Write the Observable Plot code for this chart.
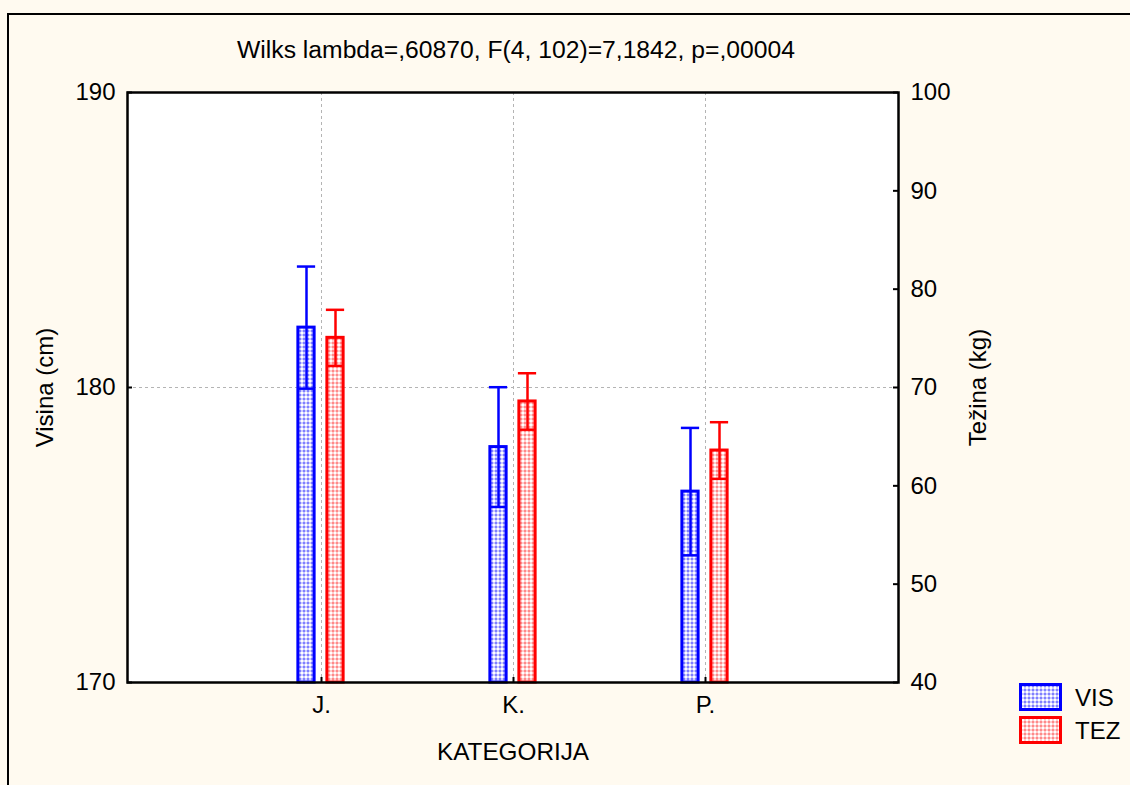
<!DOCTYPE html>
<html><head><meta charset="utf-8">
<script src="https://cdn.jsdelivr.net/npm/d3@7"></script>
<script src="https://cdn.jsdelivr.net/npm/@observablehq/plot@0.6"></script>
<style>
html,body{margin:0;padding:0;background:#fffaf0;overflow:hidden;width:1130px;height:785px}
#wrap{position:relative;width:1130px;height:785px;font-family:"Liberation Sans",Arial,sans-serif}
#border{position:absolute;left:7px;top:13px;width:3000px;height:3000px;border-left:2px solid #000;border-top:2px solid #000;box-sizing:border-box}
#chart{position:absolute;left:0;top:0}
#legend{position:absolute;left:1010px;top:675px}
</style></head>
<body><div id="wrap"><div id="border"></div><div id="chart"></div><div id="legend"></div></div>
<script>
const categories = ["J.", "K.", "P."];
const visMean = [182.03, 177.98, 176.47];
const visErr  = [2.07, 2.03, 2.16];
const tezMean = [75.05, 68.58, 63.59];
const tezErr  = [2.85, 2.87, 2.88];
const leftTicks = [170, 180, 190];
const rightTicks = [40, 50, 60, 70, 80, 90, 100];
const cmDomain = [170, 190];
const kgDomain = [40, 100];
const seriesNames = ["VIS", "TEZ"];
const title = "Wilks lambda=,60870, F(4, 102)=7,1842, p=,00004";
const xLabel = "KATEGORIJA";
const yLeftLabel = "Visina (cm)";
const yRightLabel = "Težina (kg)";

const kgRatio = (cmDomain[1] - cmDomain[0]) / (kgDomain[1] - kgDomain[0]);
const kg2cm = k => cmDomain[0] + (k - kgDomain[0]) * kgRatio;
const cm2kg = c => kgDomain[0] + (c - cmDomain[0]) / kgRatio;

const vis = categories.map((c, i) => ({cat: c, mean: visMean[i], lo: visMean[i] - visErr[i], hi: visMean[i] + visErr[i]}));
const tez = categories.map((c, i) => ({cat: c, mean: kg2cm(tezMean[i]), lo: kg2cm(tezMean[i] - tezErr[i]), hi: kg2cm(tezMean[i] + tezErr[i])}));

const W = 1130, H = 785, mL = 127, mR = 232, mT = 92, mB = 103;
const pw = W - mL - mR, ph = H - mT - mB;
const bw = pw / 4;              // band width (paddingOuter 0.5)
const barW = 17, capW = 19;
const barIns = (bw - barW) / 2, capIns = (bw - capW) / 2;
const BLUE = "#0000ff", RED = "#ff0000";
const font = "'Liberation Sans', Arial, sans-serif";

function seriesMarks(data, color, pat, dx) {
  return [
    Plot.barY(data, {x: "cat", y1: cmDomain[0], y2: "mean", dx, insetLeft: barIns, insetRight: barIns, fill: `url(#${pat})`, stroke: color, strokeWidth: 3}),
    Plot.ruleX(data, {x: "cat", y1: "lo", y2: "hi", dx, stroke: color, strokeWidth: 2.5}),
    Plot.tickY(data, {x: "cat", y: "hi", dx, insetLeft: capIns, insetRight: capIns, stroke: color, strokeWidth: 2.5}),
    Plot.tickY(data, {x: "cat", y: "lo", dx, insetLeft: barIns, insetRight: barIns, stroke: color, strokeWidth: 2.5})
  ];
}

const grid = {stroke: "#b4b4b4", strokeOpacity: 1, strokeWidth: 1, strokeDasharray: "3,3"};

const chart = Plot.plot({
  width: W, height: H,
  marginLeft: mL, marginRight: mR, marginTop: mT, marginBottom: mB,
  style: {background: "transparent", fontFamily: font, color: "#000", overflow: "visible"},
  x: {type: "band", domain: categories, paddingInner: 0, paddingOuter: 0.5},
  y: {domain: cmDomain},
  marks: [
    Plot.frame({fill: "white", stroke: null}),
    Plot.gridX(categories, grid),
    Plot.gridY([180], grid),
    ...seriesMarks(vis, BLUE, "patBlue", -15),
    ...seriesMarks(tez, RED, "patRed", 14),
    Plot.frame({stroke: "#000", strokeWidth: 2.5}),
    Plot.tickY(leftTicks, {y: d => d, insetRight: pw - 5, stroke: "#000", strokeWidth: 2}),
    Plot.tickY(rightTicks, {y: kg2cm, insetLeft: pw - 5, stroke: "#000", strokeWidth: 2}),
    Plot.tickX(categories, {x: d => d, insetTop: ph - 5, stroke: "#000", strokeWidth: 2}),
    Plot.axisY(leftTicks, {anchor: "left", tickSize: 0, tickPadding: 12, fontSize: 24, label: null, fill: "#000"}),
    Plot.axisY(rightTicks.map(kg2cm), {anchor: "right", tickSize: 0, tickPadding: 12, fontSize: 24, label: null, fill: "#000", tickFormat: d => String(Math.round(cm2kg(d)))}),
    Plot.axisX(categories, {anchor: "bottom", tickSize: 0, tickPadding: 13, fontSize: 24, label: null, fill: "#000"}),
    Plot.text([title], {frameAnchor: "top", dy: -42, dx: 3, fontSize: 24.7, lineAnchor: "middle", textAnchor: "middle", fill: "#000"}),
    Plot.text([xLabel], {frameAnchor: "bottom", dy: 70, fontSize: 24.3, lineAnchor: "middle", textAnchor: "middle", fill: "#000"}),
    Plot.text([yLeftLabel], {frameAnchor: "left", dx: -82, rotate: -90, fontSize: 24, lineAnchor: "middle", textAnchor: "middle", fill: "#000"}),
    Plot.text([yRightLabel], {frameAnchor: "right", dx: 80, rotate: -90, fontSize: 24, lineAnchor: "middle", textAnchor: "middle", fill: "#000"})
  ]
});

const patterns = [
  {name: "Blue", base: "#cdcdff", dark: "#8080ff"},
  {name: "Red", base: "#ffcdcd", dark: "#ff8a8a"}
];
function addPatterns(svgSel, prefix) {
  const defs = svgSel.insert("defs", ":first-child");
  patterns.forEach(p => {
    const pat = defs.append("pattern").attr("id", prefix + p.name)
      .attr("width", 4).attr("height", 4).attr("patternUnits", "userSpaceOnUse");
    pat.append("rect").attr("width", 4).attr("height", 4).style("fill", p.base);
    pat.append("rect").attr("x", 0).attr("y", 0).attr("width", 2).attr("height", 2).style("fill", "#ffffff");
    pat.append("rect").attr("x", 2).attr("y", 2).attr("width", 2).attr("height", 2).style("fill", p.dark);
  });
}
addPatterns(d3.select(chart), "pat");
document.getElementById("chart").appendChild(chart);

// legend
const colors = [BLUE, RED];
const lg = d3.select("#legend").append("svg").attr("width", 120).attr("height", 80)
  .style("overflow", "visible").style("font-family", font);
addPatterns(lg, "lg");
seriesNames.forEach((name, i) => {
  const y = 9.5 + i * 33;
  lg.append("rect").attr("x", 10.5).attr("y", y).attr("width", 40).attr("height", 25)
    .attr("fill", `url(#lg${patterns[i].name})`).attr("stroke", colors[i]).attr("stroke-width", 3);
  lg.append("text").attr("x", 65).attr("y", y + 21).attr("font-size", 24).attr("fill", "#000").text(name);
});
</script></body></html>
